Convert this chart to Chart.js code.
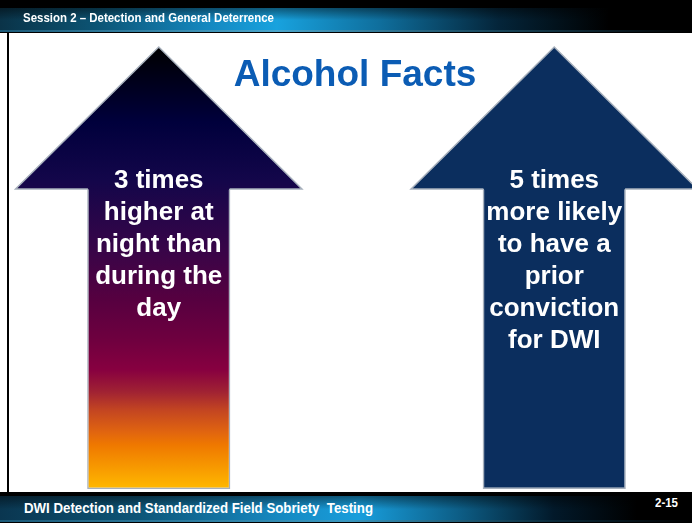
<!DOCTYPE html>
<html lang="en">
<head>
  <meta charset="UTF-8">
  <title>Alcohol Facts</title>
  <script src="https://cdn.jsdelivr.net/npm/chart.js@4.4.0/dist/chart.umd.min.js"></script>
  <style>
    html, body { margin: 0; padding: 0; background: #fff; }
    #slide { position: relative; width: 692px; height: 523px; overflow: hidden; background: #fff;
      font-family: "Liberation Sans", Arial, sans-serif; }
    /* ====================== header / footer bands */
    .top-bar { position: absolute; left: 0; top: 0; width: 692px; height: 33px; background: #000; }
    .top-bar .band { position: absolute; left: 0; top: 8px; width: 692px; height: 22px;
      background: linear-gradient(180deg, rgba(0,0,0,.45), rgba(0,0,0,0) 55%),
                  linear-gradient(90deg, #0a3348 0%, #0c5474 14%, #1488c0 30%, #18a2de 40%, #0f6e9c 55%, #04253a 72%, #000 88%); }
    .top-bar .rule { position: absolute; left: 0; top: 30px; width: 692px; height: 2px;
      background: linear-gradient(90deg, #1c5a78, #4aa6cc 40%, #1a4a60 70%, #000); }
    .bot-bar { position: absolute; left: 0; top: 492px; width: 692px; height: 31px; background: #000; }
    .bot-bar .band { position: absolute; left: 0; top: 4px; width: 692px; height: 24px;
      background: linear-gradient(180deg, rgba(0,0,0,.45), rgba(0,0,0,0) 55%),
                  linear-gradient(90deg, #0a3650 0%, #0d5577 20%, #1688c0 40%, #189edc 52%, #0d5f88 66%, #02192a 80%, #000 92%); }
    .bot-bar .rule { position: absolute; left: 0; top: 28px; width: 692px; height: 2px;
      background: linear-gradient(90deg, #1c5a78, #3a98c0 50%, #0a2a3a 80%, #000); }
    .edge { position: absolute; left: 7px; top: 32px; width: 2px; height: 461px; background: #000; }
    .fit { position: absolute; white-space: nowrap; color: #fff; font-weight: bold; transform-origin: left center;
      font-family: "Liberation Sans Narrow", "Arial Narrow", "Liberation Sans", Arial, sans-serif; }
    #title { position: absolute; left: 9px; top: 55px; width: 692px; text-align: center;
      font-size: 37px; line-height: 37px; font-weight: bold; color: #0b5cb4; }
    .chart-box { position: absolute; left: -39px; top: 0; width: 791px; height: 489px; }
  </style>
</head>
<body>
<div id="slide">
  <div class="top-bar"><div class="band"></div><div class="rule"></div></div>
  <div class="bot-bar"><div class="band"></div><div class="rule"></div></div>
  <div class="edge"></div>

  <div class="chart-box"><canvas id="arrows"></canvas></div>

  <div id="title">Alcohol Facts</div>
  <span class="fit" id="hdr" data-w="251" style="left:23px; top:11px; font-size:12.5px; line-height:14px;">Session 2 – Detection and General Deterrence</span>
  <span class="fit" id="ftr" data-w="349" style="left:24px; top:500px; font-size:14px; line-height:16px;">DWI Detection and Standardized Field Sobriety&nbsp; Testing</span>
  <span class="fit" id="pg" data-w="23" style="left:655px; top:496px; font-size:12px; line-height:14px;">2-15</span>
</div>

<script>
  // ---- data
  var factLines = [
    ['3 times', 'higher at', 'night than', 'during the', 'day'],
    ['5 times', 'more likely', 'to have a', 'prior', 'conviction', 'for DWI']
  ];
  var shaftTop = [61.35, 61.35];   // top of each arrow shaft (y units 0-100)
  var arrowTip = [90.4, 90.4];     // tip of each arrow head

  // left arrow: night -> day gradient (tip to base)
  var nightStops = [
    [0.00, '#000000'], [0.17, '#00003c'], [0.30, '#13064a'], [0.46, '#380548'],
    [0.57, '#560040'], [0.66, '#6e003f'], [0.73, '#870040'], [0.78, '#a02233'],
    [0.82, '#c24422'], [0.87, '#e06410'], [0.90, '#ef7800'], [1.00, '#ffb900']
  ];

  function nightGradient(chart) {
    var y = chart.scales.y;
    if (!y || !chart.chartArea) return '#3a0548';
    var top = y.getPixelForValue(arrowTip[0]);
    var bottom = y.getPixelForValue(0);
    if (!isFinite(top) || !isFinite(bottom) || top === bottom) return '#3a0548';
    var g = chart.ctx.createLinearGradient(0, top, 0, bottom);
    nightStops.forEach(function (s) { g.addColorStop(s[0], s[1]); });
    return g;
  }

  // draws the arrow heads on top of the bars + the text inside them
  var arrowHeads = {
    id: 'arrowHeads',
    afterDatasetsDraw: function (chart) {
      var ctx = chart.ctx;
      var meta = chart.getDatasetMeta(0);
      var yScale = chart.scales.y;
      meta.data.forEach(function (bar, i) {
        var p = bar.getProps(['x', 'y', 'width'], true);
        var half = p.width / 2;
        var head = p.width;              // head half-width = shaft width
        var tip = yScale.getPixelForValue(arrowTip[i]);
        var fill = i === 0 ? nightGradient(chart) : bar.options.backgroundColor;

        ctx.save();
        ctx.beginPath();
        ctx.moveTo(p.x - half + 1.5, p.y + 1);
        ctx.lineTo(p.x - half + 1.5, p.y);
        ctx.lineTo(p.x - head, p.y);
        ctx.lineTo(p.x, tip);
        ctx.lineTo(p.x + head, p.y);
        ctx.lineTo(p.x + half - 1.5, p.y);
        ctx.lineTo(p.x + half - 1.5, p.y + 1);
        ctx.closePath();
        ctx.fillStyle = fill;
        ctx.fill();

        ctx.beginPath();
        ctx.moveTo(p.x - half + 0.75, p.y);
        ctx.lineTo(p.x - head, p.y);
        ctx.lineTo(p.x, tip);
        ctx.lineTo(p.x + head, p.y);
        ctx.lineTo(p.x + half - 0.75, p.y);
        ctx.strokeStyle = '#a7b0bc';
        ctx.lineWidth = 1.5;
        ctx.lineJoin = 'miter';
        ctx.stroke();

        // label
        ctx.fillStyle = '#ffffff';
        ctx.font = 'bold 26px "Liberation Sans", Arial, sans-serif';
        ctx.textAlign = 'center';
        ctx.textBaseline = 'alphabetic';
        chart.data.labels[i].forEach(function (line, k) {
          ctx.fillText(line, p.x, p.y - 1 + k * 32);
        });
        ctx.restore();
      });
    }
  };

  new Chart(document.getElementById('arrows'), {
    type: 'bar',
    data: {
      labels: factLines,
      datasets: [{
        data: shaftTop,
        backgroundColor: function (c) { return c.dataIndex === 0 ? nightGradient(c.chart) : '#0b2e5e'; },
        borderColor: '#a7b0bc',
        borderWidth: 1.5,
        borderSkipped: 'top',
        barPercentage: 0.362,
        categoryPercentage: 1
      }]
    },
    options: {
      responsive: true,
      maintainAspectRatio: false,
      animation: false,
      layout: { padding: 0 },
      plugins: { legend: { display: false }, tooltip: { enabled: false } },
      scales: {
        x: { display: false },
        y: { display: false, min: 0, max: 100 }
      }
    },
    plugins: [arrowHeads]
  });

  // squeeze header/footer text to the slide's condensed lettering
  document.querySelectorAll('.fit').forEach(function (el) {
    var w = el.getBoundingClientRect().width;
    el.style.transform = 'scaleX(' + (parseFloat(el.dataset.w) / w) + ')';
  });
</script>
</body>
</html>
